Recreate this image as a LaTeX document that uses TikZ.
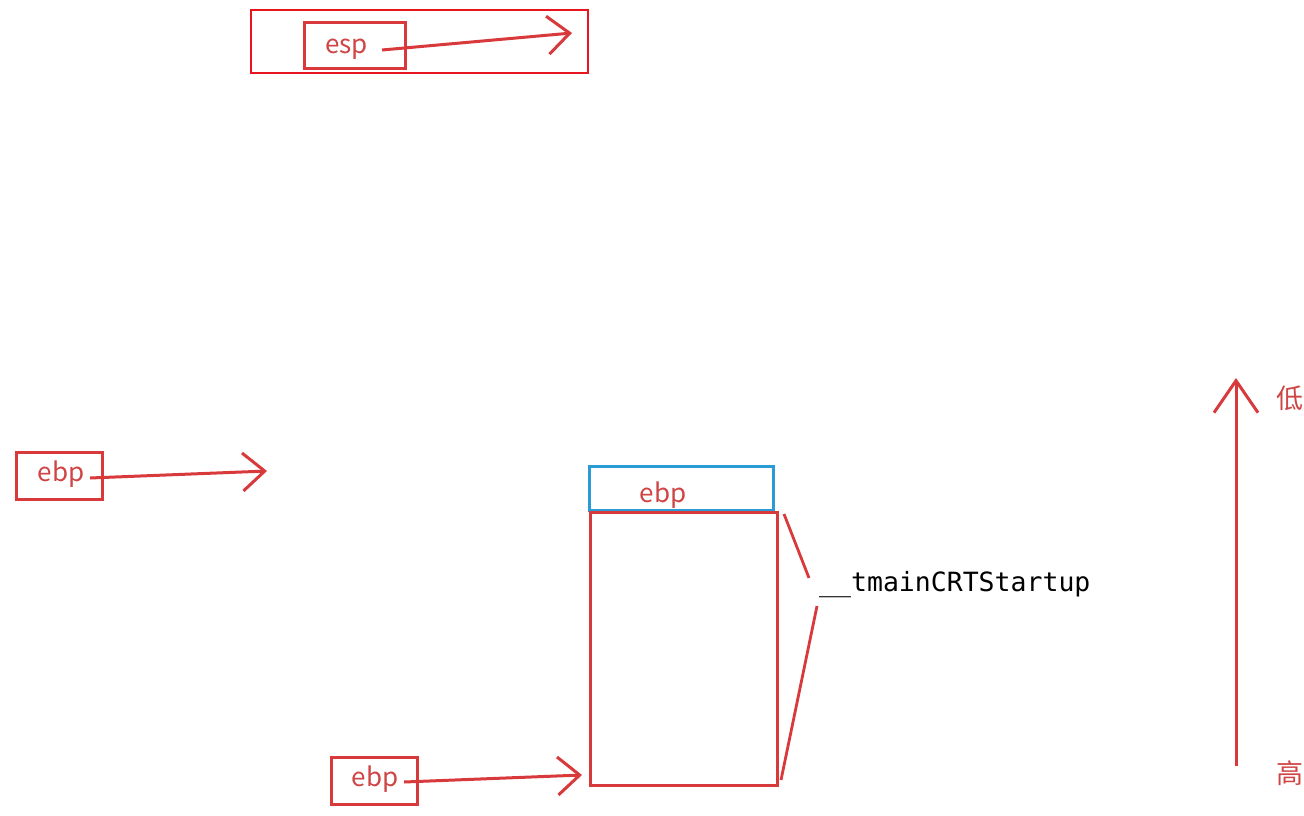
\documentclass[tikz,border=0pt]{standalone}
\usepackage{fontspec}
\newfontfamily\cjk{Noto Sans CJK SC}
\newfontfamily\monofont{DejaVu Sans Mono}
\usetikzlibrary{arrows.meta}
\definecolor{pen}{HTML}{D8393B}
\definecolor{penbright}{HTML}{E8141E}
\definecolor{penblue}{HTML}{2A9BD5}
\definecolor{labelred}{HTML}{CF4444}
\tikzset{
  regbox/.style={draw=pen, line width=3pt, minimum width=86pt, minimum height=47pt, inner sep=0pt, text height=0pt, text depth=0pt, text=labelred, font=\cjk\fontsize{26}{28}\selectfont},
  handarrow/.style={draw=pen, line width=3pt, -{Straight Barb[length=22pt,width=38pt,line width=3pt]}},
  handline/.style={draw=pen, line width=2.8pt},
}
\begin{document}
\begin{tikzpicture}[x=1pt,y=-1pt]
\useasboundingbox (0,0) rectangle (1304,816);
% top: selection frame and esp
\node[draw=penbright, line width=1.8pt, minimum width=337pt, minimum height=63pt, inner sep=0pt] (sel) at (419.5,41.5) {};
\node[regbox, minimum width=101pt, minimum height=46pt] (esp) at (354.5,46) {\hspace*{-16pt}\raisebox{-8pt}{esp}};
\coordinate (espstart) at (382,50);
\coordinate (esptip) at (572,33);
\draw[handarrow] (espstart) -- (esptip);
% left ebp
\node[regbox] (ebpA) at (59,475.5) {\hspace*{4pt}\raisebox{-5.5pt}{ebp}};
\coordinate (ebpAstart) at (90,478);
\coordinate (ebpAtip) at (267,471);
\draw[handarrow] (ebpAstart) -- (ebpAtip);
% stack
\node[draw=penblue, line width=3pt, minimum width=184pt, minimum height=44pt, inner sep=0pt, text height=0pt, text depth=0pt, text=labelred, font=\cjk\fontsize{26}{28}\selectfont] (top) at (681,488) {\hspace*{-36pt}\raisebox{-14pt}{ebp}};
\node[draw=pen, line width=3pt, minimum width=187pt, minimum height=273pt, inner sep=0pt] (frame) at (683.5,648.5) {};
% bracket and label
\node[anchor=west, inner sep=0pt, font=\monofont\fontsize{26.5}{30}\selectfont] (fname) at (819,585) {\_\_tmainCRTStartup};
\coordinate (b1) at (784,514);
\coordinate (b2) at (809,578);
\coordinate (b3) at (817,606);
\coordinate (b4) at (781,780);
\draw[handline] (b1) -- (b2);
\draw[handline] (b3) -- (b4);
% bottom ebp
\node[regbox] (ebpB) at (374,781) {\hspace*{2pt}\raisebox{-5pt}{ebp}};
\coordinate (ebpBstart) at (404,782);
\coordinate (ebpBtip) at (582,775);
\draw[handarrow] (ebpBstart) -- (ebpBtip);
% address direction
\coordinate (dirlow) at (1236,766);
\coordinate (dirhigh) at (1236,378);
\draw[draw=pen, line width=3pt, -{Straight Barb[length=32pt,width=44pt,line width=3pt]}] (dirlow) -- (dirhigh);
\node[anchor=west, inner sep=0pt, text=labelred, font=\cjk\fontsize{27}{30}\selectfont] (low) at (1276,398) {低};
\node[anchor=west, inner sep=0pt, text=labelred, font=\cjk\fontsize{27}{30}\selectfont] (high) at (1276,773) {高};
\end{tikzpicture}
\end{document}
